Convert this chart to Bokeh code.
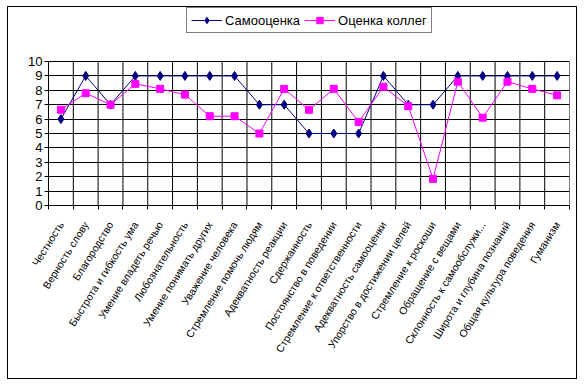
import math
from bokeh.plotting import figure
from bokeh.models import (Range1d, FixedTicker, Legend, LegendItem, ColumnDataSource)
from bokeh.embed import file_html
from bokeh.resources import INLINE

categories = [
    "Честность", "Верность слову", "Благородство", "Быстрота и гибкость ума",
    "Умение владеть речью", "Любознательность", "Умение понимать других",
    "Уважение человека", "Стремление помочь людям", "Адекватность реакции",
    "Сдержанность", "Постоянство в поведении", "Стремление к ответственности",
    "Адекватность самооценки", "Упорство в достижении целей",
    "Стремление к роскоши", "Обращение с вещами", "Склонность к самообслужи...",
    "Широта и глубина познаний", "Общая культура поведения", "Гуманизм",
]
self_vals = [6, 9, 7, 9, 9, 9, 9, 9, 7, 7, 5, 5, 5, 9, 7, 7, 9, 9, 9, 9, 9]
coll_vals = [6.65, 7.8, 7.0, 8.45, 8.1, 7.7, 6.2, 6.2, 5.0, 8.1, 6.65, 8.1,
             5.8, 8.25, 6.9, 1.85, 8.6, 6.1, 8.6, 8.1, 7.65]
y_ticks = list(range(0, 11))

n = len(categories)
xs = [i + 0.5 for i in range(n)]
bounds = list(range(n + 1))
y_lo, y_hi = y_ticks[0], y_ticks[-1]

FONT = "Liberation Sans"

# frame extends above the value 10 so the legend (clipped to the frame) fits
p = figure(width=570, height=373, output_backend="svg", toolbar_location=None,
           x_range=Range1d(0, n), y_range=Range1d(0, 13.75),
           min_border_left=40, min_border_right=9, min_border_top=0,
           min_border_bottom=175)
p.styles = {"border": "1px solid black", "margin-left": "7px", "margin-top": "6px"}
p.background_fill_color = "white"
p.border_fill_color = "white"
p.outline_line_color = None

# vertical grid lines at category boundaries, limited to the value range
p.segment(x0=bounds, y0=[y_lo] * len(bounds), x1=bounds, y1=[y_hi] * len(bounds),
          line_color="black", line_width=1)

src = ColumnDataSource(dict(x=xs, s=self_vals, c=coll_vals))

l1 = p.line("x", "s", source=src, line_color="#000080", line_width=1)
m1 = p.scatter("x", "s", source=src, marker="diamond", size=9,
               fill_color="#000080", line_color="#000080")
l2 = p.line("x", "c", source=src, line_color="#FF00FF", line_width=1)
m2 = p.scatter("x", "c", source=src, marker="square", size=7,
               fill_color="#FF00FF", line_color="#FF00FF")

# axes
xax = p.xaxis[0]
xax.ticker = FixedTicker(ticks=xs, minor_ticks=bounds)
xax.major_label_overrides = {x: c for x, c in zip(xs, categories)}
xax.major_label_orientation = math.radians(58)
xax.major_tick_out = 0
xax.major_tick_in = 0
xax.minor_tick_out = 4
xax.minor_tick_in = 0
xax.minor_tick_line_color = "black"
xax.axis_line_color = "black"
xax.major_label_text_font = FONT
xax.major_label_text_font_size = "10.5px"
xax.major_label_text_color = "black"
xax.major_label_standoff = 13

yax = p.yaxis[0]
yax.ticker = FixedTicker(ticks=y_ticks)
yax.bounds = (y_lo, y_hi)
yax.major_tick_out = 4
yax.major_tick_in = 0
yax.minor_tick_line_color = None
yax.axis_line_color = "black"
yax.major_label_text_font = FONT
yax.major_label_text_font_size = "13px"
yax.major_label_text_color = "black"
yax.major_label_standoff = 2

p.xgrid.visible = False
p.ygrid.ticker = FixedTicker(ticks=y_ticks)
p.ygrid.grid_line_color = "black"

legend = Legend(items=[LegendItem(label="Самооценка", renderers=[l1, m1]),
                       LegendItem(label="Оценка коллег", renderers=[l2, m2])],
                orientation="horizontal", location=(138, 172),
                glyph_width=31, glyph_height=16, label_height=16,
                label_standoff=3, spacing=4, padding=4, margin=0,
                label_text_font=FONT, label_text_font_size="13px",
                label_text_color="black",
                border_line_color="black", border_line_width=1,
                background_fill_color="white", background_fill_alpha=1)
p.add_layout(legend, "center")

open("out.html", "w").write(file_html(p, INLINE))
